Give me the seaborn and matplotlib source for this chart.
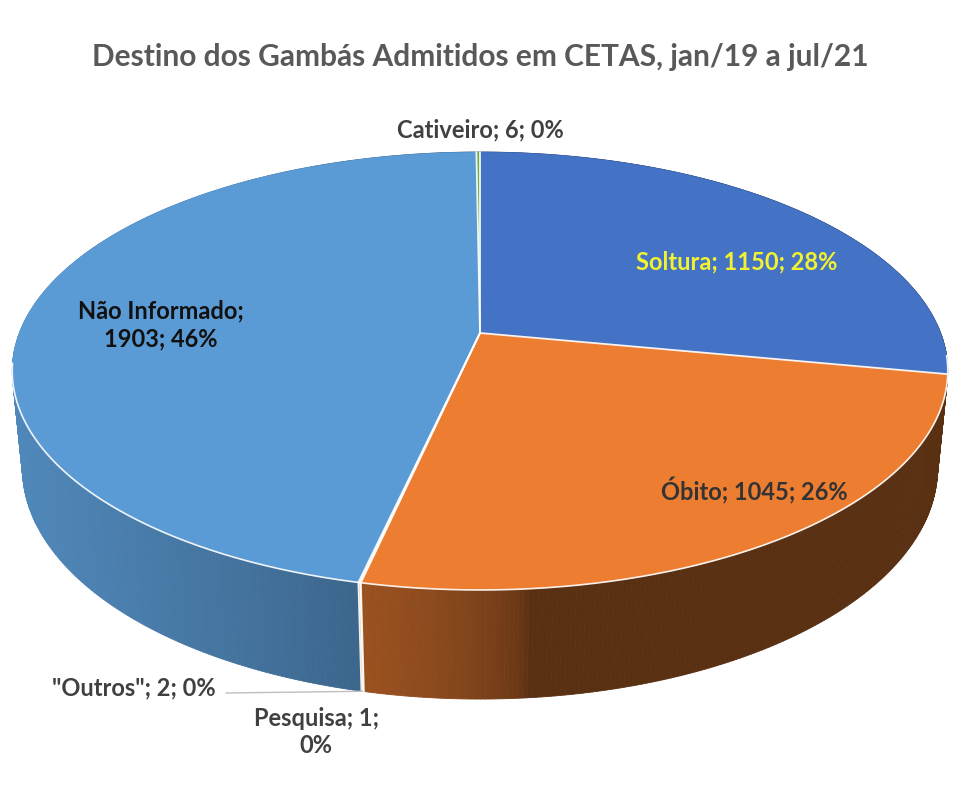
import numpy as np
import matplotlib
matplotlib.use("Agg")
import matplotlib.pyplot as plt
import seaborn as sns
from matplotlib.patches import Polygon
from matplotlib.colors import to_rgb

# ---- data ----
categories = ["Soltura", "Óbito", "Pesquisa", '"Outros"', "Não Informado", "Cativeiro"]
values = [1150, 1045, 1, 2, 1903, 6]
percent_labels = [28, 26, 0, 0, 46, 0]
colors = ["#4472C4", "#ED7D31", "#A5A5A5", "#FFC000", "#5B9BD5", "#70AD47"]
title = "Destino dos Gambás Admitidos em CETAS, jan/19 a jul/21"

sns.set_theme(style="white")
plt.rcParams['font.family'] = ['Lato', 'DejaVu Sans']

fig = plt.figure(figsize=(9.6, 7.91), dpi=100)
ax = fig.add_axes([0, 0, 1, 1])
ax.set_xlim(0, 960)
ax.set_ylim(791, 0)
ax.axis("off")

# ---- perspective projection of a 3D disc ----
CX, CY = 480, 333
S, C = 0.461, 0.887
D, F, H = 5.11, 2354.0, 0.24


def proj(th, r, z):
    th = np.asarray(th, dtype=float)
    X = r * np.cos(th)
    Y = r * np.sin(th)
    v = Y * S + z * C
    w = D + Y * C - z * S
    return CX + F * X / w, CY - F * v / w


def depth(th):
    return D + np.sin(th) * C


def shade(thdeg):
    t = thdeg % 360
    if t < 90:
        t += 360
    k = max(0.0, np.cos(np.radians(t - 185)))
    return 0.38 + 0.5 * k ** 0.5


total = float(sum(values))
cum = np.concatenate([[0], np.cumsum(values)]) / total
starts = np.pi / 2 - 2 * np.pi * cum[:-1]
ends = np.pi / 2 - 2 * np.pi * cum[1:]

# walls (back to front)
segs = []
for i, (a0, a1) in enumerate(zip(starts, ends)):
    n = max(2, int(np.ceil(abs(a0 - a1) / np.radians(0.5))) + 1)
    th = np.linspace(a0, a1, n)
    for a, b in zip(th[:-1], th[1:]):
        segs.append((depth((a + b) / 2), i, a, b))
segs.sort(key=lambda s: -s[0])
for dep, i, a, b in segs:
    x0, y0 = proj(a, 1, 0)
    x1, y1 = proj(b, 1, 0)
    x2, y2 = proj(b, 1, -H)
    x3, y3 = proj(a, 1, -H)
    f = shade(np.degrees((a + b) / 2))
    col = tuple(np.clip(np.array(to_rgb(colors[i])) * f, 0, 1))
    ax.add_patch(Polygon([(x0, y0), (x1, y1), (x2, y2), (x3, y3)],
                         closed=True, facecolor=col, edgecolor=col, lw=0.6))

# top faces
for i, (a0, a1) in enumerate(zip(starts, ends)):
    n = max(2, int(np.ceil(abs(a0 - a1) / np.radians(0.3))) + 1)
    th = np.linspace(a0, a1, n)
    xs, ys = proj(th, 1, 0)
    pts = [(CX, CY)] + list(zip(xs, ys))
    ax.add_patch(Polygon(pts, closed=True, facecolor=colors[i],
                         edgecolor=colors[i], lw=0.4))

# slice edges (white)
for a in list(starts):
    xr, yr = proj(a, 1, 0)
    ax.plot([CX, xr], [CY, yr], color="white", lw=1.3, alpha=0.9)
    if np.sin(a) < -0.2:
        xb, yb = proj(a, 1, -H)
        ax.plot([xr, xb], [yr, yb], color="white", lw=1.3, alpha=0.9)
thr = np.linspace(np.radians(188), np.radians(354), 300)
xr, yr = proj(thr, 1, 0)
ax.plot(xr, yr, color="white", lw=1.2, alpha=0.9)

# ---- labels ----
lab = [f"{c}; {v}; {p}%" for c, v, p in zip(categories, values, percent_labels)]
fp = dict(fontweight="bold", ha="center", va="center")
ax.text(480, 57, title, fontsize=21.5, color="#595959", **fp)
ax.text(480, 130, lab[5], fontsize=17, color="#404040", **fp)
ax.text(737, 262, lab[0], fontsize=17, color="#F2F230", **fp)
ax.text(754, 491, lab[1], fontsize=17, color="#333333", **fp)
ax.text(161, 325, f"{categories[4]};\n{values[4]}; {percent_labels[4]}%",
        fontsize=17, color="#111111", linespacing=1.25, **fp)
ax.text(134, 688, lab[3], fontsize=17, color="#404040", **fp)
ax.text(316, 732, f"{categories[2]}; {values[2]};\n{percent_labels[2]}%",
        fontsize=17, color="#404040", linespacing=1.2, **fp)

# leader line for "Outros"
mid_o = (starts[3] + ends[3]) / 2
xo, yo = proj(mid_o, 1, -H)
ax.plot([226, xo], [693, yo], color="#BFBFBF", lw=1.0)

fig.savefig("out.png", dpi=100)
